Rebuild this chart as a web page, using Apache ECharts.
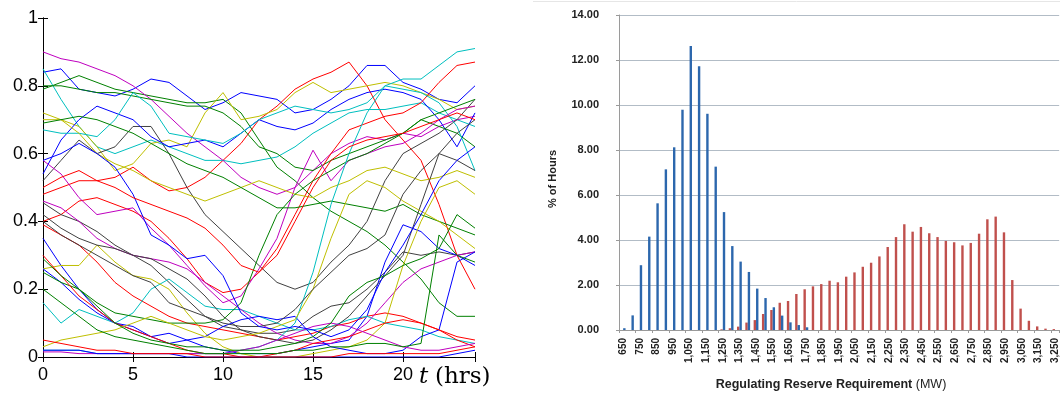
<!DOCTYPE html>
<html>
<head>
<meta charset="utf-8">
<title>trajectories and reserve histogram</title>
<script src="https://cdn.jsdelivr.net/npm/echarts@6/dist/echarts.min.js"></script>
<style>
  html, body { margin: 0; padding: 0; background: #fff; }
  #main { width: 1060px; height: 393px; }
</style>
</head>
<body>
<div id="main"></div>
<script type="text/javascript">
// left panel: hourly samples, t = 0..24 h
var hours = [0,1,2,3,4,5,6,7,8,9,10,11,12,13,14,15,16,17,18,19,20,21,22,23,24];

var blue1 = [0.84,0.85,0.79,0.78,0.77,0.79,0.82,0.81,0.77,0.73,0.75,0.78,0.77,0.76,0.72,0.73,0.76,0.80,0.86,0.86,0.81,0.79,0.76,0.75,0.80];
var blue2 = [0.54,0.64,0.70,0.74,0.72,0.70,0.65,0.62,0.63,0.64,0.62,0.66,0.70,0.68,0.67,0.69,0.73,0.76,0.78,0.79,0.78,0.76,0.70,0.62,0.72];
var blue3 = [0.35,0.27,0.20,0.14,0.10,0.08,0.06,0.07,0.05,0.03,0.02,0.01,0.01,0.01,0.02,0.03,0.04,0.05,0.12,0.28,0.39,0.37,0.32,0.30,0.27];
var blue4 = [0.26,0.22,0.17,0.13,0.10,0.09,0.06,0.04,0.05,0.06,0.09,0.11,0.12,0.11,0.12,0.06,0.03,0.02,0.01,0.01,0.02,0.06,0.08,0.28,0.31];
var blue5 = [0.58,0.60,0.63,0.60,0.56,0.48,0.36,0.33,0.29,0.30,0.24,0.13,0.09,0.08,0.09,0.08,0.06,0.08,0.14,0.25,0.33,0.42,0.52,0.58,0.62];
var blue6 = [0.02,0.02,0.02,0.01,0.01,0.01,0.01,0.01,0.00,0.00,0.00,0.00,0.00,0.00,0.00,0.00,0.00,0.00,0.00,0.00,0.00,0.00,0.00,0.01,0.02];

var green1 = [0.79,0.81,0.83,0.81,0.79,0.78,0.77,0.76,0.75,0.75,0.76,0.72,0.64,0.56,0.52,0.47,0.43,0.40,0.37,0.33,0.28,0.23,0.16,0.12,0.12];
var green2 = [0.80,0.80,0.79,0.78,0.78,0.77,0.76,0.75,0.74,0.74,0.72,0.68,0.62,0.60,0.56,0.55,0.58,0.60,0.62,0.64,0.66,0.70,0.68,0.66,0.62];
var green3 = [0.69,0.70,0.71,0.70,0.68,0.66,0.63,0.60,0.57,0.55,0.53,0.50,0.47,0.44,0.44,0.45,0.46,0.45,0.44,0.43,0.45,0.42,0.40,0.38,0.36];
var green4 = [0.25,0.22,0.20,0.16,0.13,0.12,0.11,0.10,0.10,0.10,0.11,0.16,0.30,0.42,0.48,0.52,0.55,0.58,0.60,0.63,0.66,0.70,0.72,0.74,0.76];
var green5 = [0.20,0.16,0.12,0.08,0.06,0.05,0.04,0.03,0.02,0.01,0.01,0.01,0.01,0.01,0.02,0.02,0.03,0.03,0.04,0.04,0.03,0.04,0.36,0.30,0.28];
var green6 = [0.29,0.24,0.20,0.15,0.10,0.07,0.05,0.04,0.03,0.03,0.02,0.02,0.02,0.03,0.04,0.06,0.10,0.18,0.22,0.24,0.27,0.29,0.32,0.42,0.38];

var red1 = [0.48,0.50,0.52,0.52,0.53,0.56,0.52,0.49,0.50,0.53,0.58,0.63,0.70,0.74,0.79,0.82,0.84,0.87,0.80,0.70,0.64,0.58,0.45,0.30,0.20];
var red2 = [0.40,0.42,0.46,0.47,0.45,0.43,0.40,0.35,0.29,0.22,0.19,0.20,0.25,0.32,0.42,0.52,0.60,0.67,0.69,0.71,0.72,0.75,0.81,0.86,0.87];
var red3 = [0.39,0.36,0.33,0.28,0.22,0.18,0.15,0.12,0.10,0.09,0.08,0.07,0.06,0.05,0.06,0.07,0.09,0.10,0.12,0.13,0.12,0.10,0.08,0.06,0.05];
var red4 = [0.30,0.24,0.18,0.14,0.10,0.08,0.06,0.04,0.02,0.01,0.01,0.00,0.00,0.01,0.02,0.04,0.05,0.06,0.08,0.10,0.11,0.10,0.08,0.05,0.03];
var red5 = [0.50,0.53,0.55,0.52,0.50,0.47,0.45,0.43,0.41,0.38,0.33,0.27,0.25,0.30,0.40,0.50,0.58,0.62,0.64,0.65,0.66,0.68,0.70,0.72,0.70];
var red6 = [0.05,0.04,0.03,0.02,0.02,0.01,0.01,0.01,0.01,0.00,0.00,0.00,0.00,0.00,0.00,0.00,0.00,0.01,0.01,0.01,0.01,0.01,0.01,0.02,0.03];

var cyan1 = [0.85,0.76,0.68,0.62,0.60,0.62,0.64,0.62,0.60,0.58,0.58,0.57,0.58,0.59,0.62,0.66,0.69,0.72,0.73,0.73,0.74,0.75,0.72,0.70,0.68];
var cyan2 = [0.67,0.66,0.66,0.65,0.70,0.78,0.74,0.66,0.65,0.64,0.63,0.66,0.70,0.72,0.74,0.73,0.72,0.73,0.75,0.80,0.79,0.78,0.75,0.68,0.55];
var cyan3 = [0.16,0.10,0.14,0.12,0.10,0.13,0.20,0.23,0.19,0.15,0.14,0.14,0.12,0.10,0.08,0.08,0.09,0.11,0.12,0.10,0.09,0.08,0.06,0.05,0.04];
var cyan4 = [0.02,0.02,0.02,0.01,0.01,0.01,0.01,0.01,0.01,0.01,0.01,0.02,0.03,0.05,0.10,0.25,0.45,0.60,0.72,0.80,0.82,0.82,0.86,0.90,0.91];

var magenta1 = [0.90,0.88,0.87,0.85,0.83,0.80,0.76,0.71,0.66,0.62,0.58,0.53,0.50,0.48,0.50,0.55,0.60,0.63,0.65,0.64,0.66,0.65,0.68,0.70,0.71];
var magenta2 = [0.58,0.54,0.47,0.42,0.43,0.44,0.38,0.33,0.27,0.21,0.16,0.18,0.26,0.35,0.50,0.61,0.52,0.58,0.60,0.62,0.63,0.66,0.70,0.73,0.74];
var magenta3 = [0.46,0.44,0.40,0.35,0.32,0.30,0.29,0.28,0.26,0.22,0.18,0.14,0.10,0.07,0.05,0.04,0.04,0.06,0.10,0.16,0.22,0.26,0.28,0.30,0.31];
var magenta4 = [0.015,0.015,0.01,0.01,0.01,0.01,0.01,0.01,0.01,0.01,0.01,0.02,0.03,0.05,0.07,0.09,0.10,0.09,0.07,0.05,0.03,0.02,0.02,0.03,0.04];

var yellow1 = [0.72,0.70,0.68,0.62,0.55,0.57,0.63,0.64,0.62,0.72,0.78,0.70,0.71,0.73,0.78,0.81,0.78,0.79,0.80,0.81,0.80,0.78,0.76,0.73,0.74];
var yellow2 = [0.70,0.70,0.66,0.60,0.57,0.55,0.52,0.50,0.48,0.46,0.48,0.50,0.52,0.50,0.48,0.47,0.50,0.52,0.55,0.56,0.54,0.52,0.53,0.55,0.53];
var yellow3 = [0.26,0.27,0.27,0.33,0.28,0.24,0.23,0.20,0.13,0.07,0.03,0.01,0.00,0.00,0.00,0.01,0.02,0.03,0.05,0.10,0.27,0.40,0.50,0.52,0.48];
var yellow4 = [0.03,0.05,0.06,0.07,0.08,0.10,0.12,0.10,0.08,0.06,0.05,0.06,0.07,0.09,0.11,0.20,0.35,0.48,0.52,0.50,0.46,0.43,0.40,0.36,0.32];

var black1 = [0.52,0.58,0.64,0.60,0.62,0.68,0.68,0.60,0.50,0.42,0.37,0.32,0.27,0.22,0.20,0.22,0.28,0.33,0.40,0.52,0.60,0.63,0.66,0.70,0.76];
var black2 = [0.455,0.42,0.40,0.37,0.33,0.30,0.27,0.22,0.17,0.12,0.09,0.08,0.07,0.07,0.08,0.12,0.15,0.16,0.20,0.25,0.31,0.30,0.31,0.30,0.31];
var black3 = [0.42,0.38,0.35,0.33,0.32,0.30,0.29,0.26,0.23,0.18,0.12,0.08,0.06,0.05,0.04,0.05,0.08,0.12,0.18,0.24,0.30,0.45,0.60,0.66,0.70];
var black4 = [0.40,0.36,0.33,0.30,0.27,0.24,0.22,0.16,0.14,0.12,0.10,0.09,0.09,0.10,0.14,0.20,0.25,0.30,0.32,0.36,0.48,0.55,0.60,0.58,0.55];

// right panel: histogram, MW bins 650..3250 step 50
var reserveBins = [];
for (var b = 650; b <= 3250; b += 50) reserveBins.push(b);

var hoursPctBlue = [0.08,0.65,2.88,4.15,5.63,7.14,8.12,9.79,12.62,11.72,9.61,7.26,5.24,3.73,3.04,2.58,1.84,1.42,1.01,0.64,0.34,0.22,0.12,
    0,0,0,0,0,0,0,0,0,0,0,0,0,0,0,0,0,0,0,0,0,0,0,0,0,0,0,0,0,0];
var hoursPctRed = [0,0,0,0,0,0,0,0,0,0,0,0,
    0.03,0.08,0.15,0.33,0.44,0.71,0.89,1.21,1.29,1.60,1.81,1.94,2.04,2.19,2.12,2.37,2.56,2.81,2.99,3.27,3.69,4.13,
    4.70,4.37,4.58,4.30,4.13,3.96,3.90,3.76,3.87,4.28,4.92,5.04,4.34,2.22,0.95,0.41,0.16,0.06,0.04];

var C = {b: '#0000ff', g: '#008000', r: '#ff0000', c: '#00bfbf', m: '#bf00bf', y: '#bfbf00', k: '#404040'};
// drawing order like matlab's colour cycle
var traj = [
    [blue1, C.b], [green1, C.g], [red1, C.r], [cyan1, C.c], [magenta1, C.m], [yellow1, C.y], [black1, C.k],
    [blue2, C.b], [green2, C.g], [red2, C.r], [cyan2, C.c], [magenta2, C.m], [yellow2, C.y], [black2, C.k],
    [blue3, C.b], [green3, C.g], [red3, C.r], [cyan3, C.c], [magenta3, C.m], [yellow3, C.y], [black3, C.k],
    [blue4, C.b], [green4, C.g], [red4, C.r], [cyan4, C.c], [magenta4, C.m], [yellow4, C.y], [black4, C.k],
    [blue5, C.b], [green5, C.g], [red5, C.r],
    [blue6, C.b], [green6, C.g], [red6, C.r]
];

var series = [];
traj.forEach(function (t) {
    series.push({
        type: 'line',
        xAxisIndex: 0, yAxisIndex: 0,
        symbol: 'none',
        silent: true,
        lineStyle: {color: t[1], width: 1},
        data: hours.map(function (h, i) { return [h, t[0][i]]; })
    });
});

series.push({
    name: 'red', type: 'bar', xAxisIndex: 2, yAxisIndex: 2,
    barWidth: 2.4, barGap: '0%',
    itemStyle: {color: '#c0504d'},
    data: hoursPctRed
});
series.push({
    name: 'blue', type: 'bar', xAxisIndex: 2, yAxisIndex: 2,
    barWidth: 2.4, barGap: '0%',
    itemStyle: {color: '#2c67ad'},
    data: hoursPctBlue
});

var black = {lineStyle: {color: '#000', width: 1}};
var ticksIn = {inside: true, length: 5, lineStyle: {color: '#000'}};
var lblFont = {color: '#000', fontSize: 18, fontFamily: 'Liberation Sans'};

var option = {
    animation: false,
    backgroundColor: '#fff',
    grid: [
        {left: 43, top: 18, width: 432, height: 339},
        {left: 619, top: 15, right: 0, height: 315}
    ],
    xAxis: [
        {gridIndex: 0, type: 'value', position: 'bottom', min: 0, max: 24, interval: 5,
         axisLine: black, axisTick: ticksIn, splitLine: {show: false},
         axisLabel: Object.assign({margin: 9, formatter: function (v) { return v === 24 ? '' : v; }}, lblFont)},
        {gridIndex: 0, type: 'value', position: 'top', min: 0, max: 24, interval: 5,
         axisLine: black, axisTick: ticksIn, splitLine: {show: false}, axisLabel: {show: false}},
        {gridIndex: 1, type: 'category', data: reserveBins,
         axisLine: {lineStyle: {color: '#9a9a9a'}},
         axisTick: {show: true, length: 3, lineStyle: {color: '#9a9a9a'}},
         axisLabel: {interval: 1, rotate: 90, margin: 8, fontSize: 10, fontWeight: 'bold',
                     color: '#222', fontFamily: 'Liberation Sans',
                     formatter: function (v) {
                         v = Number(v);
                         return v >= 1000 ? Math.floor(v / 1000) + ',' + String(v % 1000).padStart(3, '0') : String(v);
                     }}}
    ],
    yAxis: [
        {gridIndex: 0, type: 'value', position: 'left', min: 0, max: 1, interval: 0.2,
         axisLine: {show: true, lineStyle: {color: '#000'}}, axisTick: ticksIn, splitLine: {show: false},
         axisLabel: Object.assign({margin: 5}, lblFont)},
        {gridIndex: 0, type: 'value', position: 'right', min: 0, max: 1, interval: 0.2,
         axisLine: {show: true, lineStyle: {color: '#000'}}, axisTick: ticksIn, splitLine: {show: false},
         axisLabel: {show: false}},
        {gridIndex: 1, type: 'value', min: 0, max: 14, interval: 2,
         axisLine: {show: true, lineStyle: {color: '#9a9a9a'}},
         axisTick: {show: true, length: 3, lineStyle: {color: '#9a9a9a'}},
         splitLine: {lineStyle: {color: '#b2bcc6', width: 1}},
         axisLabel: {margin: 20, fontSize: 11, fontWeight: 'bold', color: '#222', fontFamily: 'Liberation Sans',
                     formatter: function (v) { return v.toFixed(2); }}}
    ],
    graphic: [
        {type: 'text', left: 419, top: 366,
         style: {text: '{i|t}  {n|(hrs)}', rich: {
             i: {fontFamily: 'DejaVu Serif', fontStyle: 'italic', fontSize: 23, fill: '#000'},
             n: {fontFamily: 'DejaVu Serif', fontSize: 23, fill: '#000'}}}},
        {type: 'text', x: 553, y: 179, rotation: Math.PI / 2,
         style: {text: '% of Hours', align: 'center', verticalAlign: 'middle',
                 font: 'bold 11px "Liberation Sans"', fill: '#222'}},
        {type: 'text', x: 831, y: 385,
         style: {text: '{b|Regulating Reserve Requirement }{n|(MW)}', align: 'center', verticalAlign: 'middle',
                 rich: {b: {fontFamily: 'Liberation Sans', fontWeight: 'bold', fontSize: 12.5, fill: '#222'},
                        n: {fontFamily: 'Liberation Sans', fontSize: 12.5, fill: '#222'}}}},
        {type: 'line', shape: {x1: 533, y1: 1.5, x2: 1060, y2: 1.5}, style: {stroke: '#e6e6e6', lineWidth: 1}}
    ],
    series: series
};

var myChart = echarts.init(document.getElementById('main'));
myChart.setOption(option);
</script>
</body>
</html>
